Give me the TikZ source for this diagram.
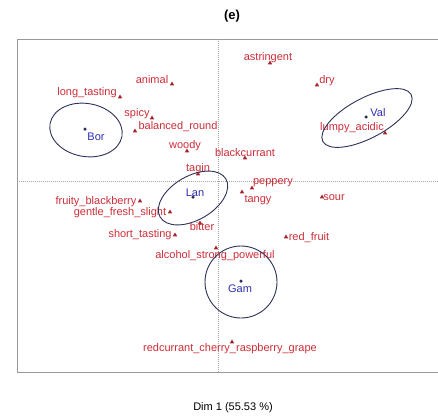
\documentclass[tikz,border=0pt]{standalone}
\usepackage{fontspec}
\setmainfont{Liberation Sans}
\usetikzlibrary{shapes.geometric}
\definecolor{attrred}{RGB}{205,45,55}
\definecolor{indblue}{RGB}{45,45,175}
\definecolor{ellnavy}{RGB}{45,50,90}
\begin{document}
\begin{tikzpicture}[x=1pt,y=-1pt,font=\fontsize{11}{13}\selectfont,
    attr/.style={text=attrred,inner sep=0pt},
    tri/.style={regular polygon,regular polygon sides=3,fill=attrred!80!black,inner sep=0pt,minimum size=5pt},
    ind/.style={circle,fill=ellnavy,inner sep=0pt,minimum size=3.5pt},
    indlab/.style={text=indblue,inner sep=0pt},
    conf/.style={draw=ellnavy,line width=0.9pt},
    axis/.style={draw=gray!70,dash pattern=on 1pt off 1pt}]
            \useasboundingbox (0,0) rectangle (438,416);

            % frame and axes
            \draw[gray!80,line width=0.8pt] (438,39) -- (17,39) -- (17,372) -- (438,372);
            \draw[axis] (17,181) -- (438,181);
            \draw[axis] (218,39) -- (218,372);

            \node [font=\fontsize{13}{15}\selectfont\bfseries] (title) at (232,16) {(e)};
            \node (dimlab) at (233,408) {Dim 1 (55.53 \%)};

            % attributes
            \node [tri] (t1) at (172,84) {};
            \node [attr] (a1) at (152,80) {animal};
            \node [tri] (t2) at (120,97) {};
            \node [attr] (a2) at (87,93) {long\_tasting};
            \node [tri] (t3) at (152,118) {};
            \node [attr] (a3) at (137,114) {spicy};
            \node [tri] (t4) at (135,131) {};
            \node [attr] (a4) at (178,127) {balanced\_round};
            \node [tri] (t5) at (187,151) {};
            \node [attr] (a5) at (185,146) {woody};
            \node [tri] (t6) at (198,174) {};
            \node [attr] (a6) at (198,169) {tagin};
            \node [tri] (t7) at (245,158) {};
            \node [attr] (a7) at (245,153) {blackcurrant};
            \node [tri] (t8) at (270,63) {};
            \node [attr] (a8) at (268,58) {astringent};
            \node [tri] (t9) at (317,85) {};
            \node [attr] (a9) at (327,81) {dry};
            \node [tri] (t10) at (385,133) {};
            \node [attr] (a10) at (352,128) {lumpy\_acidic};
            \node [tri] (t11) at (252,188) {};
            \node [attr] (a11) at (273,183) {peppery};
            \node [tri] (t12) at (242,192) {};
            \node [attr] (a12) at (258,200) {tangy};
            \node [tri] (t13) at (322,197) {};
            \node [attr] (a13) at (334,198) {sour};
            \node [tri] (t14) at (140,201) {};
            \node [attr] (a14) at (96,202) {fruity\_blackberry};
            \node [tri] (t15) at (170,212) {};
            \node [attr] (a15) at (120,213) {gentle\_fresh\_slight};
            \node [tri] (t16) at (200,223) {};
            \node [attr] (a16) at (202,227) {bitter};
            \node [tri] (t17) at (175,235) {};
            \node [attr] (a17) at (140,235) {short\_tasting};
            \node [tri] (t18) at (286,237) {};
            \node [attr] (a18) at (309,238) {red\_fruit};
            \node [tri] (t19) at (216,248) {};
            \node [attr] (a19) at (215,256) {alcohol\_strong\_powerful};
            \node [tri] (t20) at (232,342) {};
            \node [attr] (a20) at (230,349) {redcurrant\_cherry\_raspberry\_grape};

            % individuals
            \node [ind] (bor) at (85,129) {};
            \node [indlab] (borlab) at (96,137) {Bor};
            \node [ind] (lan) at (193,197) {};
            \node [indlab] (lanlab) at (195,193) {Lan};
            \node [ind] (val) at (366,117) {};
            \node [indlab] (vallab) at (378,113) {Val};
            \node [ind] (gam) at (241,281) {};
            \node [indlab] (gamlab) at (240,289) {Gam};

            % confidence ellipses
            \draw[conf,rotate around={-10:(86,130)}] (86,130) ellipse [x radius=36.5,y radius=26.5];
            \draw[conf,rotate around={30:(193,198)}] (193,198) ellipse [x radius=38,y radius=22];
            \draw[conf,rotate around={28:(367,118)}] (367,118) ellipse [x radius=50,y radius=20];
            \draw[conf] (241,282) circle [radius=36];

        \end{tikzpicture}
\end{document}
